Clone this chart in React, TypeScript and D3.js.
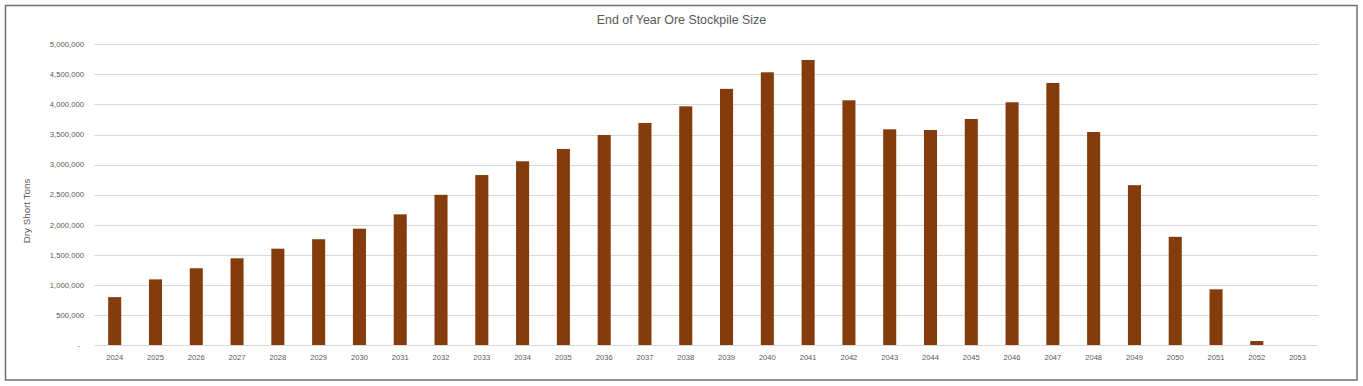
import React, { useRef, useEffect } from 'react';
import * as d3 from 'd3';

// chart data
const years: string[] = [
  '2024', '2025', '2026', '2027', '2028', '2029', '2030', '2031', '2032', '2033',
  '2034', '2035', '2036', '2037', '2038', '2039', '2040', '2041', '2042', '2043',
  '2044', '2045', '2046', '2047', '2048', '2049', '2050', '2051', '2052', '2053',
];
const stockpile: number[] = [
  800000, 1095000, 1280000, 1445000, 1605000, 1762000, 1937000, 2175000, 2500000, 2828000,
  3057000, 3261000, 3493000, 3693000, 3970000, 4260000, 4535000, 4740000, 4070000, 3588000,
  3576000, 3759000, 4037000, 4357000, 3543000, 2660000, 1802000, 930000, 71000, 0,
];
const yTicks: number[] = [0, 500000, 1000000, 1500000, 2000000, 2500000, 3000000, 3500000, 4000000, 4500000, 5000000];

const App = () => {
  const svgRef = useRef<SVGSVGElement>(null);

  useEffect(() => {
    const svg = d3.select(svgRef.current);
    svg.selectAll('*').remove();

    const width = 1363;
    const height = 386;
    const plot = { left: 94.3, right: 1318, top: 44.3, bottom: 345.3 };
    const font = '"Liberation Sans", Arial, sans-serif';
    const textColor = '#595959';
    const gridColor = '#d9d9d9';

    svg.attr('width', width).attr('height', height);

    // white background + outer frame
    svg.append('rect')
      .attr('x', 5.5).attr('y', 5.5)
      .attr('width', 1351.5).attr('height', 374.5)
      .attr('fill', '#fff')
      .attr('stroke', '#707070')
      .attr('stroke-width', 1.5);

    const x = d3.scaleBand<string>()
      .domain(years)
      .range([plot.left, plot.right])
      .paddingInner(0.68)
      .paddingOuter(0.34);

    const y = d3.scaleLinear()
      .domain([0, 5000000])
      .range([plot.bottom, plot.top]);

    // gridlines
    svg.append('g')
      .selectAll('line')
      .data(yTicks.filter(d => d > 0))
      .join('line')
      .attr('x1', plot.left).attr('x2', plot.right)
      .attr('y1', d => Math.round(y(d)) + 0.5)
      .attr('y2', d => Math.round(y(d)) + 0.5)
      .attr('stroke', gridColor)
      .attr('stroke-width', 1);

    // y tick labels (accounting style: zero shown as a dash)
    const fmt = d3.format(',');
    svg.append('g')
      .selectAll('text')
      .data(yTicks)
      .join('text')
      .attr('x', d => (d === 0 ? 80 : 84))
      .attr('y', d => y(d))
      .attr('dy', '0.35em')
      .attr('text-anchor', 'end')
      .attr('font-family', font)
      .attr('font-size', 7.7)
      .attr('fill', textColor)
      .text(d => (d === 0 ? '-' : fmt(d)));

    // bars
    svg.append('g')
      .selectAll('rect')
      .data(stockpile)
      .join('rect')
      .attr('x', (d, i) => x(years[i]) as number)
      .attr('width', x.bandwidth())
      .attr('y', d => y(d))
      .attr('height', d => y(0) - y(d))
      .attr('fill', '#843c0c');

    // category axis line
    svg.append('line')
      .attr('x1', plot.left).attr('x2', plot.right)
      .attr('y1', Math.round(y(0)) + 0.5).attr('y2', Math.round(y(0)) + 0.5)
      .attr('stroke', gridColor)
      .attr('stroke-width', 1);

    // x labels
    svg.append('g')
      .selectAll('text')
      .data(years)
      .join('text')
      .attr('x', d => (x(d) as number) + x.bandwidth() / 2)
      .attr('y', 357)
      .attr('dy', '0.35em')
      .attr('text-anchor', 'middle')
      .attr('font-family', font)
      .attr('font-size', 7.6)
      .attr('fill', textColor)
      .text(d => d);

    // axis title
    svg.append('text')
      .attr('transform', 'translate(27,211) rotate(-90)')
      .attr('dy', '0.35em')
      .attr('text-anchor', 'middle')
      .attr('font-family', font)
      .attr('font-size', 9.8)
      .attr('fill', textColor)
      .text('Dry Short Tons');

    // chart title
    svg.append('text')
      .attr('x', 681.5)
      .attr('y', 20)
      .attr('dy', '0.35em')
      .attr('text-anchor', 'middle')
      .attr('font-family', font)
      .attr('font-size', 12.4)
      .attr('fill', textColor)
      .text('End of Year Ore Stockpile Size');
  }, []);

  return (
    <svg ref={svgRef} style={{ position: 'absolute', left: 0, top: 0, display: 'block' }}></svg>
  );
};

export default App;
